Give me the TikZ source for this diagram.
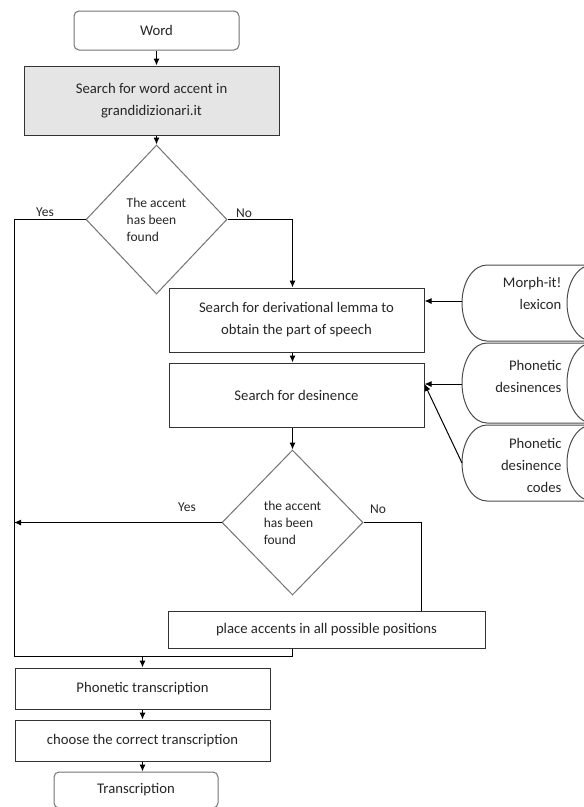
\documentclass[tikz,border=0pt]{standalone}
\usepackage{fontspec}
\setmainfont{Carlito}
\usetikzlibrary{positioning,shapes.geometric,arrows.meta}

\begin{document}
\begin{tikzpicture}[ % px-like units, y grows downwards
x=1pt, y=-1pt,
>={Latex[length=7pt,width=6pt]},
square/.style={rectangle, draw=black!80, fill=white, line width=1pt, inner sep=3pt, text=black!85, font=\fontsize{14.7}{22}\selectfont, align=center},
shaded_square/.style={square, fill=gray!20},
rounded_square/.style={square, draw=black!55, rounded corners=5pt},
decision/.style={diamond, draw=black!55, fill=white, line width=1pt, inner sep=0pt, align=left, text=black!85, font=\fontsize{13.5}{17}\selectfont},
store_line/.style={draw=black!70, line width=1pt},
store_text/.style={anchor=east, align=right, text=black!85, font=\fontsize{14.7}{22}\selectfont},
branch_text/.style={text=black!85, font=\fontsize{13.5}{17}\selectfont},
out_arrow/.style={->, line width=1pt},
plain_line/.style={line width=1pt}
]

\clip (0,0) rectangle (584,807);

\node[rounded_square, minimum width=165pt, minimum height=39pt](word) at (156.5,30.5) {Word};
\node[shaded_square, minimum width=255pt, minimum height=69pt](search_web) at (151.5,100.5) {Search for word accent in\\grandidizionari.it};

\node[decision, minimum width=141pt, minimum height=149pt](decision_web) at (156.5,219.5) {The accent\\has been\\found};

\node[square, minimum width=255pt, minimum height=64pt](lemma) at (296.5,320) {Search for derivational lemma to\\obtain the part of speech};
\node[square, minimum width=255pt, minimum height=64pt](desinence) at (296.5,395) {Search for desinence};

\node[decision, minimum width=141pt, minimum height=145pt](decision_local) at (292.5,522.5) {the accent\\has been\\found};

\node[square, minimum width=317pt, minimum height=37pt](place) at (326.5,629.5) {place accents in all possible positions};

\node[square, minimum width=255pt, minimum height=41pt](phonetic) at (142.5,688.5) {Phonetic transcription};
\node[square, minimum width=255pt, minimum height=41pt](choose) at (142.5,740.5) {choose the correct transcription};
\node[rounded_square, minimum width=164pt, minimum height=36pt](transcription) at (136,790) {Transcription};

% dictionaries on the right (cylinders lying on their side)
\draw[store_line] (592,265) -- (487,265) arc[start angle=90, end angle=270, x radius=25pt, y radius=38pt] -- (592,341);
\draw[store_line] (592,303) ellipse [x radius=25pt, y radius=38pt];
\draw[store_line] (592,343) -- (487,343) arc[start angle=90, end angle=270, x radius=25pt, y radius=40pt] -- (592,423);
\draw[store_line] (592,383) ellipse [x radius=25pt, y radius=40pt];
\draw[store_line] (592,425) -- (487,425) arc[start angle=90, end angle=270, x radius=25pt, y radius=38pt] -- (592,501);
\draw[store_line] (592,463) ellipse [x radius=25pt, y radius=38pt];

\coordinate (morph_db) at (462,301);
\coordinate (phon_des) at (462,384);
\coordinate (phon_codes) at (462,463);

\node[store_text](morph_text) at (565,293) {Morph-it!\\lexicon};
\node[store_text](phon_des_text) at (565,376) {Phonetic\\desinences};
\node[store_text](phon_codes_text) at (565,465) {Phonetic\\desinence\\codes};

\node[branch_text](yes_web) at (45,212) {Yes};
\node[branch_text](no_web) at (244,213) {No};
\node[branch_text](yes_local) at (187,507) {Yes};
\node[branch_text](no_local) at (378,509) {No};

\coordinate (loop_corner) at (14,656);
\coordinate (place_entry) at (421,611);



\draw[out_arrow](word.south) to [] (word.south |- search_web.north);
\draw[out_arrow](search_web.south -| decision_web.north) to [] (decision_web.north);

\draw[out_arrow](decision_web.east) -| (decision_local |- lemma.north);
\draw[out_arrow](decision_local |- lemma.south) to [] (decision_local |- desinence.north);
\draw[out_arrow](decision_local |- desinence.south) to [] (decision_local.north);

\draw[plain_line](decision_web.west) -| (loop_corner) -- (decision_local |- loop_corner) -- (decision_local |- place.south);
\draw[out_arrow](decision_local.west) to [] (decision_local.west -| loop_corner);
\draw[plain_line](decision_local.east) -| (place_entry);

\draw[out_arrow](phonetic.north |- loop_corner) to [] (phonetic.north);
\draw[out_arrow](phonetic.south) to [] (choose.north);
\draw[out_arrow](choose.south) to [] (choose.south |- transcription.north);

\draw[out_arrow](morph_db) to [] (morph_db -| lemma.east);
\draw[out_arrow](phon_des) to [] (phon_des -| desinence.east);
\draw[out_arrow](phon_codes) to [] (desinence.east |- phon_des);
\end{tikzpicture}
\end{document}
